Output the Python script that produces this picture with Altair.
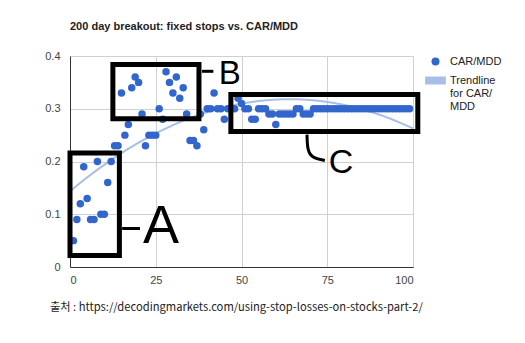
import altair as alt
import pandas as pd

# ---- data ----
stop_pct = list(range(1, 100))
car_mdd = [
    0.05, 0.09, 0.12, 0.19, 0.13, 0.09, 0.09, 0.20, 0.10, 0.10,   # 1-10
    0.16, 0.20, 0.23, 0.23, 0.33, 0.25, 0.27, 0.34, 0.36, 0.35,   # 11-20
    0.29, 0.23, 0.25, 0.25, 0.25, 0.30, 0.28, 0.37, 0.35, 0.33,   # 21-30
    0.36, 0.32, 0.34, 0.29, 0.24, 0.24, 0.23, 0.29, 0.26, 0.30,   # 31-40
    0.30, 0.33, 0.30, 0.30, 0.28, 0.30, 0.30, 0.30, 0.32, 0.31,   # 41-50
    0.30, 0.30, 0.28, 0.28, 0.30, 0.30, 0.30, 0.29, 0.29, 0.27,   # 51-60
    0.29, 0.29, 0.29, 0.29, 0.29, 0.30, 0.30, 0.29, 0.29, 0.29,   # 61-70
] + [0.30] * 29                                                   # 71-99

series_names = ["CAR/MDD", "Trendline for CAR/MDD"]
series_colors = ["#3366cc", "#a7bfe8"]

x_ticks = [0, 25, 50, 75, 100]
y_ticks = [0, 0.1, 0.2, 0.3, 0.4]

# annotation boxes (data coordinates)
box_label = ["A", "B", "C"]
box_x1 = [0.0, 12.5, 46.9]
box_x2 = [14.4, 37.6, 101.4]
box_y1 = [0.022, 0.281, 0.257]
box_y2 = [0.216, 0.384, 0.327]

# hand-written letters
letter_text = ["A", "B", "C"]
letter_x = [26.5, 46.6, 79.0]
letter_y = [0.075, 0.366, 0.198]
letter_size = [54, 33, 34]

# short connector dashes
dash_x1 = [15.2, 38.5]
dash_x2 = [20.4, 41.8]
dash_y = [0.073, 0.371]

# connector curve for C
curve_x = [69.1, 69.2, 70.5, 74.3]
curve_y = [0.251, 0.222, 0.207, 0.202]

source_text = "출처 : https://decodingmarkets.com/using-stop-losses-on-stocks-part-2/"

# ---- tables ----
df = pd.DataFrame({"x": stop_pct, "y": car_mdd, "series": series_names[0]})
boxes = pd.DataFrame({"label": box_label, "x1": box_x1, "x2": box_x2, "y1": box_y1, "y2": box_y2})
letters = pd.DataFrame({"t": letter_text, "x": letter_x, "y": letter_y, "s": letter_size})
dashes = pd.DataFrame({"x1": dash_x1, "x2": dash_x2, "y": dash_y})
curve = pd.DataFrame({"x": curve_x, "y": curve_y, "o": list(range(len(curve_x)))})

xscale = alt.Scale(domain=[0, 100], nice=False, zero=False)
yscale = alt.Scale(domain=[0, 0.4], nice=False)

xaxis = alt.Axis(values=x_ticks, title=None, ticks=False, labelColor="#444444",
                 labelFontSize=11, labelPadding=7, gridColor="#d0d0d0",
                 domainColor="#333333", labelFont="Liberation Sans")
yaxis = alt.Axis(values=y_ticks, title=None, ticks=False, labelColor="#444444",
                 labelFontSize=11, labelPadding=10, format=".1~f", gridColor="#d0d0d0",
                 domainColor="#333333", labelFont="Liberation Sans")

trend = alt.Chart(df).transform_regression(
    "x", "y", method="poly", order=2, extent=[0, 100]
).mark_line(color=series_colors[1], strokeWidth=2).encode(
    x=alt.X("x:Q", scale=xscale, axis=xaxis),
    y=alt.Y("y:Q", scale=yscale, axis=yaxis),
)

points = alt.Chart(df).mark_point(filled=True, size=56, opacity=1).encode(
    x=alt.X("x:Q", scale=xscale),
    y=alt.Y("y:Q", scale=yscale),
    color=alt.Color("series:N", scale=alt.Scale(domain=series_names, range=series_colors),
                    legend=alt.Legend(
                        title=None, orient="none", legendX=360, legendY=0,
                        symbolSize=64, labelFontSize=11, labelColor="#222222",
                        labelFont="Liberation Sans", labelOffset=9, rowPadding=7,
                        labelExpr="datum.label == 'Trendline for CAR/MDD' ? ['Trendline','for CAR/','MDD'] : datum.label",
                        symbolStrokeWidth=0, symbolOpacity=1)),
    shape=alt.Shape("series:N", scale=alt.Scale(domain=series_names,
                    range=["circle", "M-2.6,-1H2.6V1H-2.6Z"])),
)

rects = alt.Chart(boxes).mark_rect(fillOpacity=0, stroke="black", strokeWidth=5).encode(
    x=alt.X("x1:Q", scale=xscale), x2="x2:Q",
    y=alt.Y("y1:Q", scale=yscale), y2="y2:Q",
)

dash_rules = alt.Chart(dashes).mark_rule(color="black", strokeWidth=3).encode(
    x=alt.X("x1:Q", scale=xscale), x2="x2:Q",
    y=alt.Y("y:Q", scale=yscale),
)

curve_line = alt.Chart(curve).mark_line(color="black", strokeWidth=3, interpolate="basis").encode(
    x=alt.X("x:Q", scale=xscale),
    y=alt.Y("y:Q", scale=yscale),
    order="o:Q",
)

letter_marks = alt.Chart(letters).mark_text(font="Liberation Sans", color="black",
                                             baseline="middle", align="center").encode(
    x=alt.X("x:Q", scale=xscale),
    y=alt.Y("y:Q", scale=yscale),
    text="t:N",
    size=alt.Size("s:Q", scale=None, legend=None),
)

source = alt.Chart(pd.DataFrame({"t": [source_text]})).mark_text(
    font="Noto Sans CJK KR", fontSize=11.2, color="#222222", align="left", baseline="middle"
).encode(x=alt.value(-20), y=alt.value(251.5), text="t:N")

chart = alt.layer(trend, points, rects, dash_rules, curve_line, letter_marks, source).properties(
    width=343, height=211,
    title=alt.TitleParams("200 day breakout: fixed stops vs. CAR/MDD", anchor="start",
                          frame="group", fontSize=11, font="Liberation Sans",
                          fontWeight="bold", color="#222222", offset=18),
    autosize=alt.AutoSizeParams(type="none"),
    padding={"left": 70, "top": 56, "right": 112, "bottom": 76},
).configure_view(stroke=None).configure(background="white")

chart.save("out.html", embed_options={"renderer": "svg", "actions": False})
